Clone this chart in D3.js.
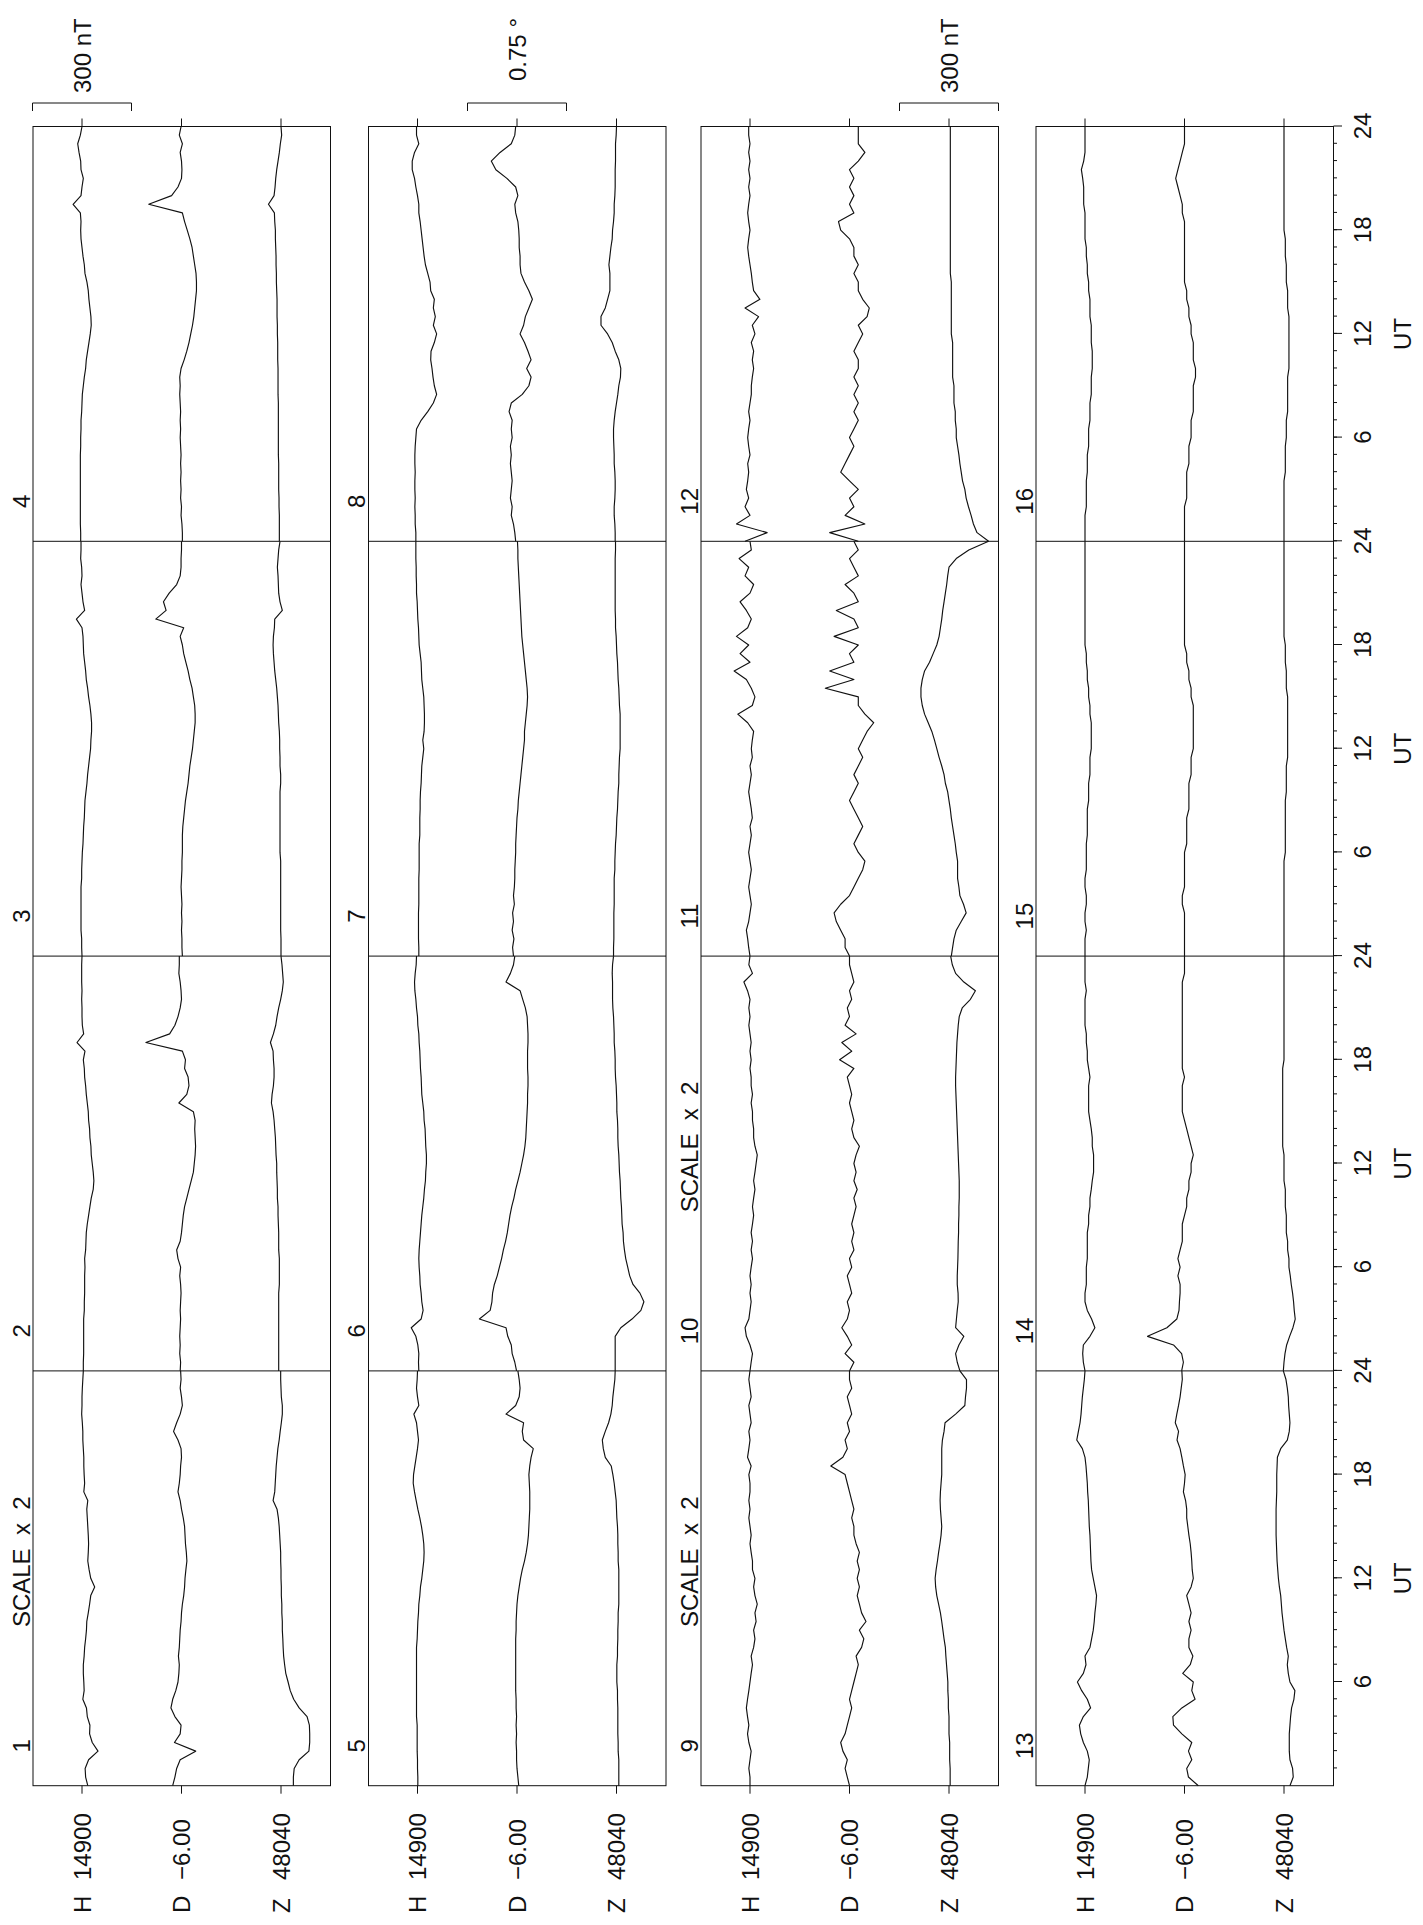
<!DOCTYPE html>
<html>
<head>
<meta charset="utf-8">
<script src="https://cdn.jsdelivr.net/npm/d3@7"></script>
<style>
  html, body { margin: 0; padding: 0; background: #fff; }
  svg { display: block; }
  text { font-family: "Liberation Sans", Arial, Helvetica, sans-serif; fill: #111; }
</style>
</head>
<body>
<svg id="chart" width="1423" height="1925"></svg>
<script>
// Sample times within each UT day (half-hourly, 0..24 h)
const hours = d3.range(0, 24.001, 0.5);

// Baselines printed beside the traces
const baseH = 14900;   // nT
const baseD = -6.00;   // degrees
const baseZ = 48040;   // nT

// Day numbers and the per-day scale multiplier (SCALE x 2 days)
const dayNumbers = d3.range(1, 17);
const scaleMult = [2, 1, 1, 1, 1, 1, 1, 1, 2, 2, 1, 1, 1, 1, 1, 1];

// H variations from baseline, nT, one row per day
const dH = [
  [-35,-22,-19,-40,-97,-62,-46,-48,-32,-27,-5,-13,-11,-8,-8,-13,-16,-22,-27,-29,-38,-46,-53,-77,-53,-43,-35,-38,-40,-38,-35,-32,-29,-35,-11,-16,-13,-11,-11,-8,-5,-5,-2,2,0,0,-2,-5,-8],
  [-4,-4,-5,-5,-5,-5,-5,-7,-7,-8,-8,-8,-9,-8,-11,-12,-13,-16,-20,-24,-28,-34,-36,-34,-31,-28,-27,-24,-23,-20,-19,-16,-13,-11,-8,-7,-4,-9,15,-5,-1,0,0,1,0,1,1,1,0],
  [0,1,1,3,3,3,3,3,3,1,1,0,-1,-3,-4,-5,-7,-8,-9,-12,-15,-17,-20,-23,-26,-27,-29,-29,-27,-24,-20,-17,-13,-11,-8,-5,-4,-3,0,17,-8,-3,0,3,0,1,4,3,3],
  [4,4,5,5,5,5,5,5,5,5,5,4,4,3,3,1,0,-1,-4,-7,-11,-13,-17,-21,-25,-28,-27,-24,-21,-19,-15,-9,-7,-3,0,3,4,3,5,27,3,0,-4,3,4,9,13,5,0],
  [-1,-1,0,0,1,1,1,1,3,3,3,3,3,3,3,3,3,1,0,-1,-3,-4,-7,-9,-13,-16,-19,-20,-19,-16,-12,-7,-1,4,9,13,12,8,4,0,-3,0,3,11,-4,0,3,1,0],
  [-4,-3,-4,-1,5,19,-11,-17,-13,-11,-8,-7,-5,-4,-5,-7,-9,-11,-13,-16,-19,-21,-24,-25,-27,-27,-25,-24,-23,-20,-19,-16,-13,-12,-11,-9,-8,-7,-5,-4,-1,0,3,5,8,9,7,4,3],
  [-4,-4,-3,-3,-3,-3,-4,-4,-4,-4,-5,-5,-5,-5,-7,-7,-7,-8,-8,-9,-11,-12,-13,-16,-19,-16,-20,-21,-21,-20,-19,-16,-13,-12,-11,-8,-5,-4,-3,-1,0,1,3,3,4,4,5,5,5],
  [5,5,7,7,8,7,8,8,7,8,8,7,5,3,-11,-31,-48,-58,-51,-47,-44,-40,-41,-51,-58,-48,-54,-48,-51,-40,-38,-31,-24,-20,-17,-14,-11,-8,-4,-4,0,5,9,16,16,9,-4,3,3],
  [0,0,7,0,-7,7,15,7,15,22,15,7,0,-7,-15,-7,-22,-30,-22,-37,-30,-44,-30,-22,-30,-15,-15,-7,0,-7,0,7,0,7,0,0,7,-7,15,7,0,7,-7,0,7,-7,0,7,0],
  [0,-7,-15,0,22,30,7,0,-7,0,-7,0,-7,-15,-7,-15,-7,-15,-22,-15,-22,-30,-22,-30,-37,-44,-30,-22,-22,-15,-15,-7,-15,-7,-7,0,-7,0,-7,0,7,0,7,0,15,37,-15,7,0],
  [0,4,7,11,4,0,-4,0,4,0,-4,0,4,0,-4,0,-7,-4,0,4,0,-4,0,-7,-4,-7,-11,7,37,-7,-15,-4,11,48,0,30,4,41,7,-4,11,30,0,-11,15,4,33,-4,0],
  [15,-52,41,0,15,4,11,7,4,7,0,4,7,4,0,4,0,-4,-4,-7,-11,-7,-11,-4,-15,-7,-26,15,-30,-11,-7,-4,0,4,7,4,0,4,7,4,0,4,0,4,0,4,0,4,4],
  [0,-7,-10,-13,-7,5,13,17,5,-17,-7,10,23,5,-3,0,-15,-20,-25,-28,-30,-33,-35,-30,-25,-20,-18,-17,-16,-15,-13,-12,-11,-10,-8,-7,-5,-3,0,8,25,20,15,12,10,8,5,2,0],
  [0,5,7,5,-15,-30,-20,-7,0,0,-4,-4,-4,-7,-7,-7,-7,-11,-11,-15,-15,-19,-22,-26,-26,-26,-22,-22,-19,-15,-11,-11,-11,-11,-15,-11,-7,-7,-4,-4,0,0,0,0,-4,0,0,0,0],
  [0,0,0,-4,0,0,-4,-4,0,0,-4,-4,-4,-4,-7,-7,-7,-7,-11,-11,-11,-15,-15,-15,-19,-19,-19,-19,-15,-15,-11,-11,-7,-7,-4,-4,0,0,0,0,0,0,0,0,0,0,0,0,0],
  [0,0,0,0,-4,-4,-4,-4,-7,-7,-7,-11,-11,-11,-15,-15,-15,-19,-19,-19,-22,-22,-22,-19,-19,-19,-15,-15,-15,-11,-11,-7,-7,-4,-4,0,0,0,0,4,4,4,7,11,4,0,0,0,0]
];

// D variations from baseline, arc-minutes, one row per day
const dD = [
  [8,6,4.4,1.2,-12.9,6.4,1.2,0.4,6,9.6,8,5.2,3.2,2.4,2,2.8,2,1.6,1.2,0.4,0,-0.8,-2,-2.8,-3.2,-4,-4.9,-4.4,-3.6,-3.2,-2.8,-1.6,0,1.2,3.2,2,1.2,0.8,0,0.4,3.2,7.2,4.4,1.2,-0.8,0,1.2,0.4,0.8],
  [0.6,0.4,0.8,0.6,0.8,0.6,0.4,0.6,0.4,0.2,0.4,0.8,0.4,1.6,2.2,0.6,0,-0.4,-0.8,-1.4,-2.4,-3.4,-4.4,-5.4,-5.8,-6.2,-6.4,-6.2,-6,-6.2,-5.4,1.2,-2.4,-3.4,-3,-1.4,-1.8,-0.4,16.2,5.4,3,1.6,0.6,0,0.2,0.6,1.2,1,1],
  [-0.4,-0.2,-0.2,0,-0.2,0,-0.2,0,0.2,0,-0.2,-0.2,-0.4,-0.4,-0.4,-0.6,-1,-1.4,-1.8,-2.4,-3,-3.4,-3.8,-4.4,-5,-5.4,-5.8,-6.2,-6.2,-6,-5.4,-4.8,-3.8,-3,-2,-1,-0.4,0.6,-1,11.7,7,8.2,5.6,2.2,0.6,0.2,0.2,0,0],
  [-0.4,-0.4,-0.2,0.2,0,0.4,0.2,0.4,0.2,0.4,0.2,0.4,0.6,0.4,0.6,0.4,0.6,0.8,0.6,0.8,0.2,-1.2,-2.4,-3.4,-4.2,-5,-5.6,-6,-6.4,-6.8,-6.8,-6.6,-6,-5.4,-4.8,-3.8,-2.6,-1.4,-0.4,14.9,4.5,1.6,0,-0.2,0,0.6,-0.4,1,0.2],
  [-0.8,-0.4,0,0.2,0.2,0.4,0.2,0.4,0.2,0.4,0.4,0.6,0.6,0.6,0.6,0.6,0.6,0.6,0.4,0.4,0.2,0,-0.4,-1,-1.6,-2.4,-3.4,-4.2,-4.8,-5.2,-5.4,-5.6,-5.8,-5.8,-5.8,-5.6,-5.4,-5.8,-6.4,-7.4,-3,-2.4,-3,5,0.6,-1,-1.4,-1,-0.4],
  [0.2,1,2.2,2.6,4.2,5,17.1,12.2,11.4,11.1,10.3,9,8,7,6.2,5.2,4.4,3.8,3.2,2.4,1.4,0.6,-0.4,-1.4,-2.2,-3,-3.6,-4,-4.2,-4.4,-4.6,-4.8,-4.8,-5,-5,-4.8,-4.8,-4.8,-5,-5,-4.8,-4.6,-3.8,-2.6,-1.4,5,3,1.6,1],
  [1.6,2,1.4,2.2,1.6,2,1.2,1.6,1.2,1,1,0.8,0.6,0.6,0.4,0.2,0,-0.4,-0.6,-1,-1.4,-1.8,-2.2,-2.6,-3,-3.4,-3.4,-3.8,-4.2,-4.6,-4.8,-4.6,-4.2,-3.8,-3.4,-3,-2.6,-2.2,-2,-1.8,-1.6,-1.4,-1.2,-1,-0.8,-0.6,-0.4,-0.4,-0.2],
  [0.6,1,1.6,2.6,2.2,3,2.6,2.2,2.6,3,2.6,3,2.2,2.6,2.2,3.6,2.6,-2.4,-5.4,-6.4,-4.4,-6.4,-5,-3.4,-1.4,-3,-3.8,-5.4,-7,-5.4,-3.4,-1.8,-1.4,-1.4,-1,-1,-0.8,-0.4,0.6,1,-0.4,0.6,4.6,9.6,11.7,7.7,2.6,1,0.6],
  [0,2,4,2,6,8,4,2,0,-2,0,-2,-4,-6,-8,-6,-11,-13,-9,-15,-11,-9,-7,-9,-7,-9,-7,-9,-6,-4,-4,-2,-4,-2,0,2,4,17,6,2,4,0,2,-2,0,2,-2,0,0],
  [0,-4,4,-2,2,7,2,0,2,-2,0,2,-2,0,-4,-2,-4,-2,-4,-6,-4,-7,-4,-6,-4,-6,-9,-4,-2,-4,-2,0,-2,0,2,-4,9,-2,7,-6,4,0,2,-2,0,-4,-2,0,0],
  [0,2,2,4,6,7,4,0,-2,-4,-6,-7,-4,-2,-4,-6,-4,-2,0,-2,-4,-2,-4,-6,-4,-6,-8,-11,-7,-4,-4,11,-2,9,-2,0,-4,7,-4,-2,6,-4,-2,2,-4,-2,0,-4,-2],
  [-4,9,-7,2,-2,0,-4,0,4,2,0,-2,0,-2,-4,-2,-4,-2,-4,-2,-4,-4,-2,-4,-6,-4,-8,-9,-6,-4,-4,-2,-4,-2,-2,0,4,5,-2,0,-2,0,-2,0,-4,-7,-4,-4,-4],
  [-6.3,-1.8,-1,-3.3,-1.8,-3.3,1.2,5,5.3,1.2,-4.8,-3.3,-4,0.8,-2.6,-3.8,-2,-2,-3,-2,-3,-2,-1,-3,-4,-3.5,-3.3,-3,-2.6,-2,-1.5,-1,-1,-0.5,0.5,0,-0.3,0.5,1.2,2,3.4,2.7,4.2,3.5,2.7,2,1.5,1,1.2],
  [1.3,0.5,1.3,5,16.8,8,3.5,2.5,2.3,2,2,3,2,3,2,1,1,1,0,-1,-1,-2,-2,-3,-3,-4,-3,-2,-1,0,1,1,1,1,0,1,1,1,1,1,1,1,1,1,1,1,0,0,0],
  [0,0,0,0,0,0,1,1,0,0,0,0,0,-1,-1,-1,-1,-2,-2,-2,-2,-3,-3,-3,-4,-4,-4,-4,-4,-4,-3,-3,-2,-2,-1,-1,0,0,0,0,0,0,0,0,0,0,0,0,0],
  [0,0,0,0,0,-1,-1,-1,-1,-2,-2,-2,-3,-3,-3,-4,-4,-4,-4,-5,-5,-4,-4,-4,-3,-3,-2,-2,-1,-1,0,0,0,0,0,0,0,0,1,1,2,3,4,3,2,1,0,0,0]
];

// Z variations from baseline, nT, one row per day
const dZ = [
  [-75,-75,-80,-110,-169,-174,-174,-172,-158,-110,-77,-56,-43,-29,-22,-16,-13,-11,-8,-8,-5,-5,-2,-2,0,0,2,2,5,8,11,16,24,48,38,35,32,29,24,19,11,5,-2,-8,-8,-2,0,2,2],
  [7,7,7,7,7,7,7,7,7,7,5,5,5,5,7,7,7,8,9,9,11,11,12,13,13,15,16,17,19,21,24,29,27,23,21,21,23,24,32,23,16,12,7,1,-4,-7,-5,-3,0],
  [0,0,0,1,1,1,1,1,1,1,1,1,3,3,3,3,3,3,3,3,1,1,3,3,4,4,5,7,8,9,11,13,16,19,21,23,24,23,20,19,-4,3,7,8,9,11,9,7,3],
  [5,5,5,5,6,6,7,7,7,7,8,8,8,8,8,8,8,9,9,9,9,10,10,10,11,11,12,12,12,13,14,14,15,15,16,17,17,19,20,38,21,18,16,13,9,5,2,-2,0],
  [-7,-7,-7,-7,-5,-5,-4,-4,-4,-4,-3,-3,-1,-1,-1,-3,-3,-4,-4,-5,-5,-7,-7,-7,-7,-7,-5,-5,-4,-4,-3,-1,0,1,4,7,11,16,34,40,43,34,24,17,13,11,8,5,4],
  [4,4,4,4,4,-13,-47,-74,-83,-71,-50,-40,-34,-28,-24,-21,-20,-17,-16,-15,-13,-12,-11,-9,-8,-7,-5,-4,-4,-3,-1,-1,0,1,3,4,4,5,7,7,8,9,11,12,12,12,13,12,9],
  [9,9,8,8,8,8,7,7,7,7,5,5,4,3,1,0,-1,-3,-4,-5,-7,-7,-8,-9,-11,-11,-11,-11,-11,-9,-8,-7,-5,-4,-3,-1,0,1,3,3,4,4,4,4,4,4,4,3,3],
  [4,4,5,7,7,5,4,4,5,7,7,8,9,9,7,4,0,-4,-7,-12,-13,-7,4,13,27,47,47,34,27,20,20,20,23,20,17,13,12,9,7,7,5,4,4,4,3,3,3,1,0],
  [-7,-7,-7,-4,-4,-4,0,0,0,4,4,7,7,11,15,19,22,30,37,44,52,63,74,81,84,78,70,63,55,48,44,48,52,54,52,48,44,44,44,44,40,30,24,-40,-96,-100,-106,-106,-66],
  [-66,-50,-40,-60,-90,-40,-45,-50,-56,-55,-50,-50,-52,-54,-55,-56,-58,-58,-60,-60,-62,-62,-62,-60,-58,-56,-54,-52,-50,-48,-46,-44,-42,-40,-40,-42,-44,-46,-48,-52,-56,-62,-80,-130,-160,-90,-40,-20,-10],
  [-7,-11,-15,-22,-37,-52,-44,-33,-30,-26,-26,-26,-22,-19,-15,-11,-7,-4,0,4,11,15,22,30,37,44,52,63,74,81,85,85,81,74,59,48,37,30,26,22,19,15,11,7,4,0,-22,-60,-120],
  [-120,-85,-74,-67,-59,-52,-48,-41,-37,-33,-30,-26,-22,-22,-19,-19,-15,-15,-15,-11,-11,-11,-11,-11,-7,-7,-7,-7,-7,-7,-7,-4,-4,-4,-4,-4,-4,-4,-4,-4,-4,-4,-4,-4,-4,-4,-4,-4,-4],
  [-18,-28,-26,-18,-16,-16,-16,-18,-20,-23,-30,-33,-18,-13,-10,-13,-8,-4,0,3,6,8,10,14,17,19,21,22,23,24,24,24,24,23,22,22,22,21,20,10,-10,-16,-18,-16,-14,-13,-10,-6,2],
  [2,0,-3,-8,-17,-27,-34,-31,-29,-26,-22,-19,-15,-15,-11,-11,-7,-7,-7,-4,-4,-4,0,0,0,0,4,4,4,4,4,4,4,4,4,4,0,0,0,0,0,0,0,0,0,0,0,0,0],
  [0,0,0,0,0,0,0,0,0,0,0,0,-4,-4,-4,-4,-4,-4,-4,-7,-7,-7,-7,-11,-11,-11,-11,-11,-11,-11,-11,-7,-7,-7,-4,-4,-4,0,0,0,0,0,0,0,0,0,0,0,0],
  [0,0,0,0,0,0,0,0,-4,-4,-4,-4,-7,-7,-7,-11,-11,-11,-11,-11,-15,-15,-15,-15,-15,-15,-15,-11,-11,-11,-7,-7,-7,-4,-4,-4,0,0,0,0,0,0,0,0,0,0,0,0,0]
];

// Scale bar texts and the component each one sits over
const bracketLabels = ["300 nT", "0.75 \u00b0", "300 nT"];
const tickHours = d3.range(6, 97, 6);

// ---------------------------------------------------------------
// The page is drawn as a landscape sheet and turned a quarter turn.
const svg = d3.select("#chart");
const sheet = svg.append("g").attr("transform", "translate(0,1925) rotate(-90)");

const rowTop = [33, 368.5, 701, 1036];
const rowH = 297.5;
const half = 49.5;      // half of a scale bar, px
const FONT = 24;

const tAll = d3.scaleLinear().domain([0, 96]).range([139.3, 139.3 + 4 * 414.8]);

const comps = [
  { key: "H", off: 49,    base: baseH, span: 300,  data: dH, text: "14900",      conv: v => v },
  { key: "D", off: 148.5, base: baseD, span: 0.75, data: dD, text: "\u22126.00", conv: v => v / 60 },
  { key: "Z", off: 248,   base: baseZ, span: 300,  data: dZ, text: "48040",      conv: v => v }
];

const ink = "#111";

// Panels, day separators and end ticks
rowTop.forEach((top, r) => {
  const p = sheet.append("g");
  p.append("rect")
    .attr("x", tAll(0)).attr("y", top)
    .attr("width", tAll(96) - tAll(0)).attr("height", rowH)
    .attr("fill", "none").attr("stroke", ink).attr("stroke-width", 1);
  [24, 48, 72].forEach(h => {
    p.append("line")
      .attr("x1", tAll(h)).attr("x2", tAll(h))
      .attr("y1", top).attr("y2", top + rowH)
      .attr("stroke", ink).attr("stroke-width", 1);
  });
  comps.forEach(c => {
    const yc = top + c.off;
    p.append("line").attr("x1", tAll(0) - 8).attr("x2", tAll(0)).attr("y1", yc).attr("y2", yc)
      .attr("stroke", ink).attr("stroke-width", 1);
    p.append("line").attr("x1", tAll(96)).attr("x2", tAll(96) + 8).attr("y1", yc).attr("y2", yc)
      .attr("stroke", ink).attr("stroke-width", 1);
    p.append("text").attr("x", 12).attr("y", yc + 8.5)
      .attr("font-size", FONT).text(c.key);
    p.append("text").attr("x", 45).attr("y", yc + 8.5)
      .attr("font-size", FONT).text(c.text);
  });
});

// Traces
dayNumbers.forEach((day, i) => {
  const r = Math.floor(i / 4), col = i % 4;
  const top = rowTop[r];
  const m = scaleMult[i];
  const xDay = d3.scaleLinear().domain([0, 24]).range([tAll(col * 24), tAll(col * 24 + 24)]);
  comps.forEach(c => {
    const yc = top + c.off;
    const y = d3.scaleLinear()
      .domain([c.base - c.span / 2 * m, c.base + c.span / 2 * m])
      .range([yc + half, yc - half]);
    const vals = c.data[i].map(v => c.base + c.conv(v));
    const line = d3.line().x((d, j) => xDay(hours[j])).y(d => y(d));
    sheet.append("path").datum(vals)
      .attr("d", line)
      .attr("fill", "none").attr("stroke", ink)
      .attr("stroke-width", 1.15).attr("stroke-linejoin", "round");
  });
  // day number
  sheet.append("text")
    .attr("x", tAll(col * 24) + 40).attr("y", top - 3.5)
    .attr("text-anchor", "middle").attr("font-size", FONT)
    .text(day);
  if (m !== 1) {
    sheet.append("text")
      .attr("x", tAll(col * 24) + 224).attr("y", top - 3.5)
      .attr("text-anchor", "middle").attr("font-size", FONT)
      .attr("xml:space", "preserve")
      .text("SCALE\u00a0 x\u00a0 " + m);
  }
});

// Scale bars at the end of the first three panels
bracketLabels.forEach((lab, r) => {
  const yc = rowTop[r] + comps[r].off;
  sheet.append("path")
    .attr("d", `M1814,${yc - half}H1822V${yc + half}H1814`)
    .attr("fill", "none").attr("stroke", ink).attr("stroke-width", 1);
  sheet.append("text")
    .attr("x", r === 1 ? 1844 : 1832).attr("y", yc + 8.5)
    .attr("font-size", FONT).text(lab);
});

// UT axis along the last panel
const axisY = rowTop[3] + rowH;
const minor = d3.axisBottom(tAll).tickValues(d3.range(1, 96)).tickSize(3.5).tickFormat("");
const major = d3.axisBottom(tAll).tickValues(tickHours).tickSize(8.5).tickPadding(12)
  .tickFormat(h => (h % 24 === 0 ? "24" : String(h % 24)));
const ax1 = sheet.append("g").attr("transform", `translate(0,${axisY})`).call(minor);
const ax2 = sheet.append("g").attr("transform", `translate(0,${axisY})`).call(major);
[ax1, ax2].forEach(a => {
  a.select(".domain").remove();
  a.selectAll("line").attr("stroke", ink);
  a.selectAll("text").attr("font-size", FONT).attr("font-family", "Liberation Sans, Arial, sans-serif").attr("fill", ink);
});
[12, 36, 60, 84].forEach(h => {
  sheet.append("text").attr("x", tAll(h)).attr("y", 1411)
    .attr("text-anchor", "middle").attr("font-size", FONT).text("UT");
});
</script>
</body>
</html>
